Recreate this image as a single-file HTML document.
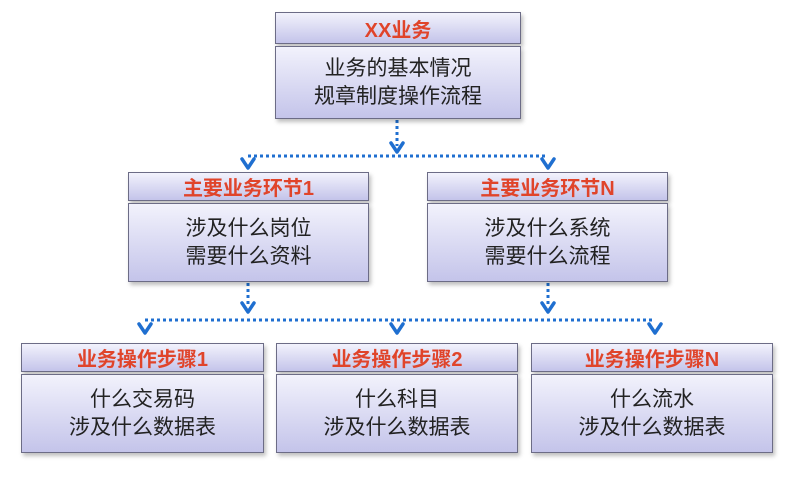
<!DOCTYPE html>
<html><head><meta charset="utf-8"><style>
body{margin:0;width:798px;height:483px;background:#fff;position:relative;overflow:hidden;font-family:"Liberation Sans","Noto Sans CJK SC",sans-serif}
.b{position:absolute;box-sizing:border-box;border:1.5px solid #6c6c86;background:linear-gradient(#f2f2fc,#c4c4ea);box-shadow:2px 3px 4px rgba(0,0,0,.25);text-align:center}
.h{color:#e0442a;font-weight:bold;font-size:20px;display:flex;align-items:center;justify-content:center}
.t{color:#222;font-size:21px;line-height:28px;display:flex;flex-direction:column;align-items:center;justify-content:center}
svg{position:absolute;left:0;top:0}
</style></head><body>
<svg width="798" height="483">
<g stroke="#1f6fd0" stroke-width="3" fill="none" stroke-dasharray="3 3">
<line x1="397" y1="120" x2="397" y2="146"/>
<line x1="248" y1="156" x2="548" y2="156"/>
<line x1="248" y1="283" x2="248" y2="305"/>
<line x1="548" y1="283" x2="548" y2="305"/>
<line x1="145" y1="320" x2="655" y2="320"/>
</g>
<g stroke="#1f6fd0" stroke-width="3.5" fill="none" stroke-linecap="round" stroke-linejoin="round">
<polyline points="391,143 397,152 403,143"/>
<polyline points="242,159 248,168 254,159"/>
<polyline points="542,159 548,168 554,159"/>
<polyline points="242,303 248,312 254,303"/>
<polyline points="542,303 548,312 554,303"/>
<polyline points="139,324 145,333 151,324"/>
<polyline points="391,324 397,333 403,324"/>
<polyline points="649,324 655,333 661,324"/>
</g>
</svg>
<div class="b h" style="left:275px;top:12px;width:246px;height:32px">XX业务</div>
<div class="b t" style="left:275px;top:46px;width:246px;height:73px"><span>业务的基本情况</span><span>规章制度操作流程</span></div>

<div class="b h" style="left:128px;top:172px;width:241px;height:29px">主要业务环节1</div>
<div class="b t" style="left:128px;top:203px;width:241px;height:79px"><span>涉及什么岗位</span><span>需要什么资料</span></div>
<div class="b h" style="left:427px;top:172px;width:241px;height:29px">主要业务环节N</div>
<div class="b t" style="left:427px;top:203px;width:241px;height:79px"><span>涉及什么系统</span><span>需要什么流程</span></div>

<div class="b h" style="left:21px;top:343px;width:243px;height:29px">业务操作步骤1</div>
<div class="b t" style="left:21px;top:374px;width:243px;height:79px"><span>什么交易码</span><span>涉及什么数据表</span></div>
<div class="b h" style="left:276px;top:343px;width:242px;height:29px">业务操作步骤2</div>
<div class="b t" style="left:276px;top:374px;width:242px;height:79px"><span>什么科目</span><span>涉及什么数据表</span></div>
<div class="b h" style="left:531px;top:343px;width:242px;height:29px">业务操作步骤N</div>
<div class="b t" style="left:531px;top:374px;width:242px;height:79px"><span>什么流水</span><span>涉及什么数据表</span></div>
</body></html>
